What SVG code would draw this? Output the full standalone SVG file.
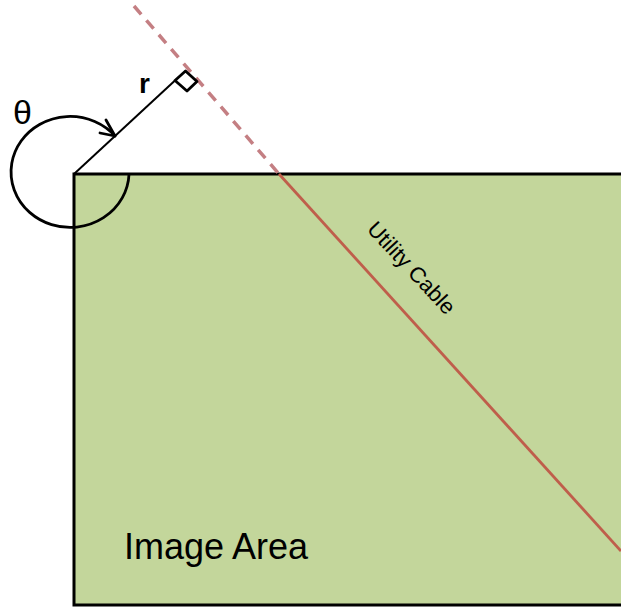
<svg xmlns="http://www.w3.org/2000/svg" width="621" height="609" viewBox="0 0 621 609">
  <defs>
    <style>
      .area { fill: #c3d69b; stroke: #000; stroke-width: 3; }
      .blk { fill: none; stroke: #000; stroke-width: 2.8; stroke-linecap: round; stroke-linejoin: round; }
      .thin { fill: none; stroke: #000; stroke-width: 2; }
      .cable { fill: none; stroke: #bf5e4b; stroke-width: 2.8; }
      .cable-dash { fill: none; stroke: #c47f83; stroke-width: 3.5; stroke-dasharray: 11 8; }
      .lbl { font-family: "Liberation Sans", Arial, sans-serif; fill: #000; }
    </style>
  </defs>
  <rect width="621" height="609" fill="#fff"/>
  <g id="image-area">
    <rect class="area" x="74" y="174" width="580" height="431"/>
    <text class="lbl" x="124" y="559" font-size="36">Image Area</text>
  </g>
  <g id="connectors">
    <line class="cable-dash" x1="134" y1="6" x2="279" y2="174"/>
    <line class="cable" x1="279" y1="174" x2="621" y2="551"/>
    <line class="thin" x1="74" y1="174" x2="175" y2="80.5"/>
    <path class="blk" d="M129,174.5 A59 55.5 0 1 1 115,136"/>
    <polyline class="blk" points="106,120 115,136 100,133"/>
    <polygon class="blk" points="175,80.5 185.5,71 197,81.5 187,91"/>
  </g>
  <g id="cable-label">
    <text class="lbl" font-size="22" text-anchor="middle" transform="translate(406,273) rotate(47)">Utility Cable</text>
  </g>
  <g id="theta-label">
    <text class="lbl" x="13" y="124" font-size="34">θ</text>
  </g>
  <g id="r-label">
    <text class="lbl" x="139" y="93" font-size="28" font-weight="bold">r</text>
  </g>
</svg>
